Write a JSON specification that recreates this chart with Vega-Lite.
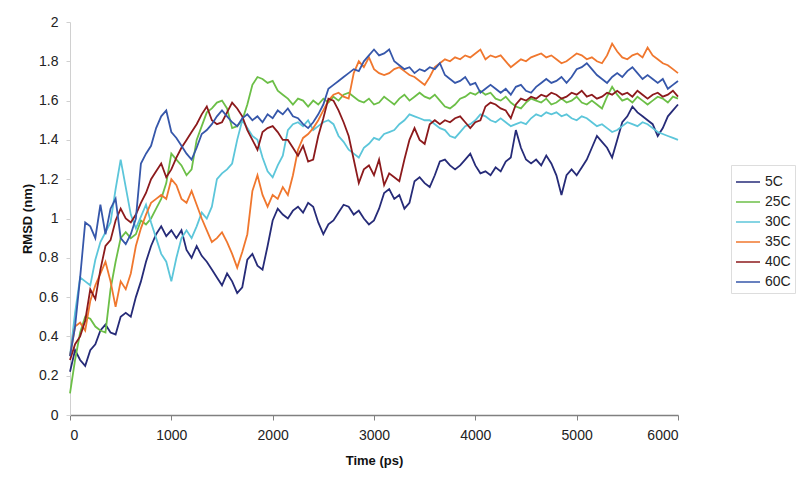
{
"$schema": "https://vega.github.io/schema/vega-lite/v6.json",
"width": 608, "height": 393,
"autosize": "none",
"padding": {"left": 70, "top": 22, "right": 122, "bottom": 70},
"background": "white",
"config": {"view": {"stroke": null}, "font": "Liberation Sans"},
"data": {"values": [
{"s":"5C","t":0,"v":0.22},{"s":"5C","t":50,"v":0.33},{"s":"5C","t":100,"v":0.28},{"s":"5C","t":150,"v":0.25},{"s":"5C","t":200,"v":0.33},{"s":"5C","t":250,"v":0.36},{"s":"5C","t":300,"v":0.43},{"s":"5C","t":350,"v":0.46},{"s":"5C","t":400,"v":0.42},{"s":"5C","t":450,"v":0.41},{"s":"5C","t":500,"v":0.50},{"s":"5C","t":550,"v":0.52},{"s":"5C","t":600,"v":0.50},{"s":"5C","t":650,"v":0.60},{"s":"5C","t":700,"v":0.68},{"s":"5C","t":750,"v":0.78},{"s":"5C","t":800,"v":0.86},{"s":"5C","t":850,"v":0.92},{"s":"5C","t":900,"v":0.96},{"s":"5C","t":950,"v":0.91},{"s":"5C","t":1000,"v":0.94},{"s":"5C","t":1050,"v":0.90},{"s":"5C","t":1100,"v":0.94},{"s":"5C","t":1150,"v":0.84},{"s":"5C","t":1200,"v":0.80},{"s":"5C","t":1250,"v":0.86},{"s":"5C","t":1300,"v":0.81},{"s":"5C","t":1350,"v":0.78},{"s":"5C","t":1400,"v":0.74},{"s":"5C","t":1450,"v":0.70},{"s":"5C","t":1500,"v":0.66},{"s":"5C","t":1550,"v":0.72},{"s":"5C","t":1600,"v":0.68},{"s":"5C","t":1650,"v":0.62},{"s":"5C","t":1700,"v":0.65},{"s":"5C","t":1750,"v":0.79},{"s":"5C","t":1800,"v":0.82},{"s":"5C","t":1850,"v":0.76},{"s":"5C","t":1900,"v":0.74},{"s":"5C","t":1950,"v":0.86},{"s":"5C","t":2000,"v":0.99},{"s":"5C","t":2050,"v":1.05},{"s":"5C","t":2100,"v":1.02},{"s":"5C","t":2150,"v":1.00},{"s":"5C","t":2200,"v":1.04},{"s":"5C","t":2250,"v":1.06},{"s":"5C","t":2300,"v":1.03},{"s":"5C","t":2350,"v":1.08},{"s":"5C","t":2400,"v":1.06},{"s":"5C","t":2450,"v":0.98},{"s":"5C","t":2500,"v":0.92},{"s":"5C","t":2550,"v":0.97},{"s":"5C","t":2600,"v":0.99},{"s":"5C","t":2650,"v":1.03},{"s":"5C","t":2700,"v":1.07},{"s":"5C","t":2750,"v":1.06},{"s":"5C","t":2800,"v":1.02},{"s":"5C","t":2850,"v":1.04},{"s":"5C","t":2900,"v":1.00},{"s":"5C","t":2950,"v":0.97},{"s":"5C","t":3000,"v":0.99},{"s":"5C","t":3050,"v":1.05},{"s":"5C","t":3100,"v":1.13},{"s":"5C","t":3150,"v":1.15},{"s":"5C","t":3200,"v":1.10},{"s":"5C","t":3250,"v":1.12},{"s":"5C","t":3300,"v":1.05},{"s":"5C","t":3350,"v":1.08},{"s":"5C","t":3400,"v":1.19},{"s":"5C","t":3450,"v":1.21},{"s":"5C","t":3500,"v":1.18},{"s":"5C","t":3550,"v":1.16},{"s":"5C","t":3600,"v":1.22},{"s":"5C","t":3650,"v":1.29},{"s":"5C","t":3700,"v":1.30},{"s":"5C","t":3750,"v":1.27},{"s":"5C","t":3800,"v":1.25},{"s":"5C","t":3850,"v":1.27},{"s":"5C","t":3900,"v":1.30},{"s":"5C","t":3950,"v":1.33},{"s":"5C","t":4000,"v":1.27},{"s":"5C","t":4050,"v":1.23},{"s":"5C","t":4100,"v":1.24},{"s":"5C","t":4150,"v":1.22},{"s":"5C","t":4200,"v":1.26},{"s":"5C","t":4250,"v":1.24},{"s":"5C","t":4300,"v":1.29},{"s":"5C","t":4350,"v":1.31},{"s":"5C","t":4400,"v":1.45},{"s":"5C","t":4450,"v":1.36},{"s":"5C","t":4500,"v":1.30},{"s":"5C","t":4550,"v":1.28},{"s":"5C","t":4600,"v":1.30},{"s":"5C","t":4650,"v":1.27},{"s":"5C","t":4700,"v":1.32},{"s":"5C","t":4750,"v":1.28},{"s":"5C","t":4800,"v":1.22},{"s":"5C","t":4850,"v":1.12},{"s":"5C","t":4900,"v":1.22},{"s":"5C","t":4950,"v":1.25},{"s":"5C","t":5000,"v":1.22},{"s":"5C","t":5050,"v":1.26},{"s":"5C","t":5100,"v":1.30},{"s":"5C","t":5150,"v":1.36},{"s":"5C","t":5200,"v":1.42},{"s":"5C","t":5250,"v":1.39},{"s":"5C","t":5300,"v":1.36},{"s":"5C","t":5350,"v":1.31},{"s":"5C","t":5400,"v":1.40},{"s":"5C","t":5450,"v":1.49},{"s":"5C","t":5500,"v":1.52},{"s":"5C","t":5550,"v":1.57},{"s":"5C","t":5600,"v":1.54},{"s":"5C","t":5650,"v":1.52},{"s":"5C","t":5700,"v":1.50},{"s":"5C","t":5750,"v":1.48},{"s":"5C","t":5800,"v":1.42},{"s":"5C","t":5850,"v":1.46},{"s":"5C","t":5900,"v":1.52},{"s":"5C","t":5950,"v":1.55},{"s":"5C","t":6000,"v":1.58},
{"s":"25C","t":0,"v":0.11},{"s":"25C","t":50,"v":0.28},{"s":"25C","t":100,"v":0.42},{"s":"25C","t":150,"v":0.50},{"s":"25C","t":200,"v":0.49},{"s":"25C","t":250,"v":0.45},{"s":"25C","t":300,"v":0.43},{"s":"25C","t":350,"v":0.42},{"s":"25C","t":400,"v":0.64},{"s":"25C","t":450,"v":0.78},{"s":"25C","t":500,"v":0.90},{"s":"25C","t":550,"v":0.93},{"s":"25C","t":600,"v":0.90},{"s":"25C","t":650,"v":0.92},{"s":"25C","t":700,"v":0.99},{"s":"25C","t":750,"v":0.97},{"s":"25C","t":800,"v":1.00},{"s":"25C","t":850,"v":1.05},{"s":"25C","t":900,"v":1.10},{"s":"25C","t":950,"v":1.18},{"s":"25C","t":1000,"v":1.33},{"s":"25C","t":1050,"v":1.30},{"s":"25C","t":1100,"v":1.27},{"s":"25C","t":1150,"v":1.22},{"s":"25C","t":1200,"v":1.25},{"s":"25C","t":1250,"v":1.40},{"s":"25C","t":1300,"v":1.47},{"s":"25C","t":1350,"v":1.54},{"s":"25C","t":1400,"v":1.56},{"s":"25C","t":1450,"v":1.59},{"s":"25C","t":1500,"v":1.60},{"s":"25C","t":1550,"v":1.56},{"s":"25C","t":1600,"v":1.46},{"s":"25C","t":1650,"v":1.47},{"s":"25C","t":1700,"v":1.50},{"s":"25C","t":1750,"v":1.58},{"s":"25C","t":1800,"v":1.68},{"s":"25C","t":1850,"v":1.72},{"s":"25C","t":1900,"v":1.71},{"s":"25C","t":1950,"v":1.69},{"s":"25C","t":2000,"v":1.70},{"s":"25C","t":2050,"v":1.65},{"s":"25C","t":2100,"v":1.63},{"s":"25C","t":2150,"v":1.61},{"s":"25C","t":2200,"v":1.58},{"s":"25C","t":2250,"v":1.61},{"s":"25C","t":2300,"v":1.60},{"s":"25C","t":2350,"v":1.57},{"s":"25C","t":2400,"v":1.60},{"s":"25C","t":2450,"v":1.58},{"s":"25C","t":2500,"v":1.61},{"s":"25C","t":2550,"v":1.59},{"s":"25C","t":2600,"v":1.62},{"s":"25C","t":2650,"v":1.60},{"s":"25C","t":2700,"v":1.63},{"s":"25C","t":2750,"v":1.64},{"s":"25C","t":2800,"v":1.62},{"s":"25C","t":2850,"v":1.60},{"s":"25C","t":2900,"v":1.59},{"s":"25C","t":2950,"v":1.61},{"s":"25C","t":3000,"v":1.58},{"s":"25C","t":3050,"v":1.59},{"s":"25C","t":3100,"v":1.62},{"s":"25C","t":3150,"v":1.60},{"s":"25C","t":3200,"v":1.58},{"s":"25C","t":3250,"v":1.61},{"s":"25C","t":3300,"v":1.63},{"s":"25C","t":3350,"v":1.60},{"s":"25C","t":3400,"v":1.62},{"s":"25C","t":3450,"v":1.64},{"s":"25C","t":3500,"v":1.62},{"s":"25C","t":3550,"v":1.61},{"s":"25C","t":3600,"v":1.63},{"s":"25C","t":3650,"v":1.60},{"s":"25C","t":3700,"v":1.57},{"s":"25C","t":3750,"v":1.56},{"s":"25C","t":3800,"v":1.58},{"s":"25C","t":3850,"v":1.61},{"s":"25C","t":3900,"v":1.62},{"s":"25C","t":3950,"v":1.64},{"s":"25C","t":4000,"v":1.63},{"s":"25C","t":4050,"v":1.65},{"s":"25C","t":4100,"v":1.63},{"s":"25C","t":4150,"v":1.64},{"s":"25C","t":4200,"v":1.61},{"s":"25C","t":4250,"v":1.60},{"s":"25C","t":4300,"v":1.62},{"s":"25C","t":4350,"v":1.59},{"s":"25C","t":4400,"v":1.57},{"s":"25C","t":4450,"v":1.56},{"s":"25C","t":4500,"v":1.59},{"s":"25C","t":4550,"v":1.61},{"s":"25C","t":4600,"v":1.60},{"s":"25C","t":4650,"v":1.59},{"s":"25C","t":4700,"v":1.61},{"s":"25C","t":4750,"v":1.58},{"s":"25C","t":4800,"v":1.59},{"s":"25C","t":4850,"v":1.61},{"s":"25C","t":4900,"v":1.59},{"s":"25C","t":4950,"v":1.60},{"s":"25C","t":5000,"v":1.62},{"s":"25C","t":5050,"v":1.59},{"s":"25C","t":5100,"v":1.58},{"s":"25C","t":5150,"v":1.60},{"s":"25C","t":5200,"v":1.58},{"s":"25C","t":5250,"v":1.56},{"s":"25C","t":5300,"v":1.62},{"s":"25C","t":5350,"v":1.67},{"s":"25C","t":5400,"v":1.63},{"s":"25C","t":5450,"v":1.60},{"s":"25C","t":5500,"v":1.61},{"s":"25C","t":5550,"v":1.59},{"s":"25C","t":5600,"v":1.62},{"s":"25C","t":5650,"v":1.60},{"s":"25C","t":5700,"v":1.58},{"s":"25C","t":5750,"v":1.60},{"s":"25C","t":5800,"v":1.62},{"s":"25C","t":5850,"v":1.61},{"s":"25C","t":5900,"v":1.59},{"s":"25C","t":5950,"v":1.62},{"s":"25C","t":6000,"v":1.61},
{"s":"30C","t":0,"v":0.30},{"s":"30C","t":50,"v":0.52},{"s":"30C","t":100,"v":0.70},{"s":"30C","t":150,"v":0.68},{"s":"30C","t":200,"v":0.66},{"s":"30C","t":250,"v":0.79},{"s":"30C","t":300,"v":0.88},{"s":"30C","t":350,"v":0.93},{"s":"30C","t":400,"v":0.98},{"s":"30C","t":450,"v":1.15},{"s":"30C","t":500,"v":1.30},{"s":"30C","t":550,"v":1.16},{"s":"30C","t":600,"v":1.02},{"s":"30C","t":650,"v":0.95},{"s":"30C","t":700,"v":1.01},{"s":"30C","t":750,"v":1.07},{"s":"30C","t":800,"v":0.98},{"s":"30C","t":850,"v":0.90},{"s":"30C","t":900,"v":0.82},{"s":"30C","t":950,"v":0.78},{"s":"30C","t":1000,"v":0.68},{"s":"30C","t":1050,"v":0.80},{"s":"30C","t":1100,"v":0.90},{"s":"30C","t":1150,"v":0.94},{"s":"30C","t":1200,"v":0.90},{"s":"30C","t":1250,"v":0.96},{"s":"30C","t":1300,"v":1.03},{"s":"30C","t":1350,"v":1.00},{"s":"30C","t":1400,"v":1.06},{"s":"30C","t":1450,"v":1.20},{"s":"30C","t":1500,"v":1.23},{"s":"30C","t":1550,"v":1.25},{"s":"30C","t":1600,"v":1.28},{"s":"30C","t":1650,"v":1.40},{"s":"30C","t":1700,"v":1.50},{"s":"30C","t":1750,"v":1.46},{"s":"30C","t":1800,"v":1.42},{"s":"30C","t":1850,"v":1.40},{"s":"30C","t":1900,"v":1.31},{"s":"30C","t":1950,"v":1.24},{"s":"30C","t":2000,"v":1.21},{"s":"30C","t":2050,"v":1.27},{"s":"30C","t":2100,"v":1.32},{"s":"30C","t":2150,"v":1.45},{"s":"30C","t":2200,"v":1.48},{"s":"30C","t":2250,"v":1.49},{"s":"30C","t":2300,"v":1.47},{"s":"30C","t":2350,"v":1.50},{"s":"30C","t":2400,"v":1.45},{"s":"30C","t":2450,"v":1.47},{"s":"30C","t":2500,"v":1.49},{"s":"30C","t":2550,"v":1.50},{"s":"30C","t":2600,"v":1.48},{"s":"30C","t":2650,"v":1.42},{"s":"30C","t":2700,"v":1.39},{"s":"30C","t":2750,"v":1.35},{"s":"30C","t":2800,"v":1.33},{"s":"30C","t":2850,"v":1.31},{"s":"30C","t":2900,"v":1.36},{"s":"30C","t":2950,"v":1.38},{"s":"30C","t":3000,"v":1.41},{"s":"30C","t":3050,"v":1.40},{"s":"30C","t":3100,"v":1.43},{"s":"30C","t":3150,"v":1.44},{"s":"30C","t":3200,"v":1.45},{"s":"30C","t":3250,"v":1.48},{"s":"30C","t":3300,"v":1.50},{"s":"30C","t":3350,"v":1.53},{"s":"30C","t":3400,"v":1.52},{"s":"30C","t":3450,"v":1.51},{"s":"30C","t":3500,"v":1.50},{"s":"30C","t":3550,"v":1.50},{"s":"30C","t":3600,"v":1.48},{"s":"30C","t":3650,"v":1.46},{"s":"30C","t":3700,"v":1.45},{"s":"30C","t":3750,"v":1.42},{"s":"30C","t":3800,"v":1.41},{"s":"30C","t":3850,"v":1.44},{"s":"30C","t":3900,"v":1.47},{"s":"30C","t":3950,"v":1.48},{"s":"30C","t":4000,"v":1.50},{"s":"30C","t":4050,"v":1.53},{"s":"30C","t":4100,"v":1.52},{"s":"30C","t":4150,"v":1.50},{"s":"30C","t":4200,"v":1.49},{"s":"30C","t":4250,"v":1.51},{"s":"30C","t":4300,"v":1.49},{"s":"30C","t":4350,"v":1.47},{"s":"30C","t":4400,"v":1.48},{"s":"30C","t":4450,"v":1.49},{"s":"30C","t":4500,"v":1.48},{"s":"30C","t":4550,"v":1.51},{"s":"30C","t":4600,"v":1.53},{"s":"30C","t":4650,"v":1.52},{"s":"30C","t":4700,"v":1.54},{"s":"30C","t":4750,"v":1.53},{"s":"30C","t":4800,"v":1.54},{"s":"30C","t":4850,"v":1.52},{"s":"30C","t":4900,"v":1.53},{"s":"30C","t":4950,"v":1.51},{"s":"30C","t":5000,"v":1.50},{"s":"30C","t":5050,"v":1.52},{"s":"30C","t":5100,"v":1.51},{"s":"30C","t":5150,"v":1.49},{"s":"30C","t":5200,"v":1.47},{"s":"30C","t":5250,"v":1.48},{"s":"30C","t":5300,"v":1.46},{"s":"30C","t":5350,"v":1.44},{"s":"30C","t":5400,"v":1.45},{"s":"30C","t":5450,"v":1.47},{"s":"30C","t":5500,"v":1.49},{"s":"30C","t":5550,"v":1.48},{"s":"30C","t":5600,"v":1.47},{"s":"30C","t":5650,"v":1.49},{"s":"30C","t":5700,"v":1.48},{"s":"30C","t":5750,"v":1.46},{"s":"30C","t":5800,"v":1.44},{"s":"30C","t":5850,"v":1.43},{"s":"30C","t":5900,"v":1.42},{"s":"30C","t":5950,"v":1.41},{"s":"30C","t":6000,"v":1.40},
{"s":"35C","t":0,"v":0.30},{"s":"35C","t":50,"v":0.45},{"s":"35C","t":100,"v":0.47},{"s":"35C","t":150,"v":0.43},{"s":"35C","t":200,"v":0.58},{"s":"35C","t":250,"v":0.66},{"s":"35C","t":300,"v":0.72},{"s":"35C","t":350,"v":0.78},{"s":"35C","t":400,"v":0.68},{"s":"35C","t":450,"v":0.55},{"s":"35C","t":500,"v":0.68},{"s":"35C","t":550,"v":0.64},{"s":"35C","t":600,"v":0.72},{"s":"35C","t":650,"v":0.86},{"s":"35C","t":700,"v":0.95},{"s":"35C","t":750,"v":1.02},{"s":"35C","t":800,"v":1.08},{"s":"35C","t":850,"v":1.10},{"s":"35C","t":900,"v":1.12},{"s":"35C","t":950,"v":1.10},{"s":"35C","t":1000,"v":1.20},{"s":"35C","t":1050,"v":1.17},{"s":"35C","t":1100,"v":1.10},{"s":"35C","t":1150,"v":1.08},{"s":"35C","t":1200,"v":1.14},{"s":"35C","t":1250,"v":1.07},{"s":"35C","t":1300,"v":1.00},{"s":"35C","t":1350,"v":0.94},{"s":"35C","t":1400,"v":0.88},{"s":"35C","t":1450,"v":0.90},{"s":"35C","t":1500,"v":0.93},{"s":"35C","t":1550,"v":0.88},{"s":"35C","t":1600,"v":0.82},{"s":"35C","t":1650,"v":0.75},{"s":"35C","t":1700,"v":0.83},{"s":"35C","t":1750,"v":0.92},{"s":"35C","t":1800,"v":1.14},{"s":"35C","t":1850,"v":1.22},{"s":"35C","t":1900,"v":1.12},{"s":"35C","t":1950,"v":1.06},{"s":"35C","t":2000,"v":1.12},{"s":"35C","t":2050,"v":1.10},{"s":"35C","t":2100,"v":1.16},{"s":"35C","t":2150,"v":1.12},{"s":"35C","t":2200,"v":1.22},{"s":"35C","t":2250,"v":1.35},{"s":"35C","t":2300,"v":1.41},{"s":"35C","t":2350,"v":1.43},{"s":"35C","t":2400,"v":1.46},{"s":"35C","t":2450,"v":1.50},{"s":"35C","t":2500,"v":1.55},{"s":"35C","t":2550,"v":1.60},{"s":"35C","t":2600,"v":1.63},{"s":"35C","t":2650,"v":1.64},{"s":"35C","t":2700,"v":1.62},{"s":"35C","t":2750,"v":1.61},{"s":"35C","t":2800,"v":1.74},{"s":"35C","t":2850,"v":1.80},{"s":"35C","t":2900,"v":1.77},{"s":"35C","t":2950,"v":1.82},{"s":"35C","t":3000,"v":1.76},{"s":"35C","t":3050,"v":1.74},{"s":"35C","t":3100,"v":1.73},{"s":"35C","t":3150,"v":1.74},{"s":"35C","t":3200,"v":1.76},{"s":"35C","t":3250,"v":1.77},{"s":"35C","t":3300,"v":1.75},{"s":"35C","t":3350,"v":1.73},{"s":"35C","t":3400,"v":1.72},{"s":"35C","t":3450,"v":1.70},{"s":"35C","t":3500,"v":1.68},{"s":"35C","t":3550,"v":1.72},{"s":"35C","t":3600,"v":1.77},{"s":"35C","t":3650,"v":1.79},{"s":"35C","t":3700,"v":1.81},{"s":"35C","t":3750,"v":1.80},{"s":"35C","t":3800,"v":1.82},{"s":"35C","t":3850,"v":1.81},{"s":"35C","t":3900,"v":1.83},{"s":"35C","t":3950,"v":1.82},{"s":"35C","t":4000,"v":1.84},{"s":"35C","t":4050,"v":1.86},{"s":"35C","t":4100,"v":1.81},{"s":"35C","t":4150,"v":1.83},{"s":"35C","t":4200,"v":1.82},{"s":"35C","t":4250,"v":1.83},{"s":"35C","t":4300,"v":1.80},{"s":"35C","t":4350,"v":1.77},{"s":"35C","t":4400,"v":1.79},{"s":"35C","t":4450,"v":1.81},{"s":"35C","t":4500,"v":1.80},{"s":"35C","t":4550,"v":1.82},{"s":"35C","t":4600,"v":1.83},{"s":"35C","t":4650,"v":1.84},{"s":"35C","t":4700,"v":1.82},{"s":"35C","t":4750,"v":1.83},{"s":"35C","t":4800,"v":1.81},{"s":"35C","t":4850,"v":1.79},{"s":"35C","t":4900,"v":1.80},{"s":"35C","t":4950,"v":1.82},{"s":"35C","t":5000,"v":1.84},{"s":"35C","t":5050,"v":1.83},{"s":"35C","t":5100,"v":1.81},{"s":"35C","t":5150,"v":1.82},{"s":"35C","t":5200,"v":1.80},{"s":"35C","t":5250,"v":1.79},{"s":"35C","t":5300,"v":1.83},{"s":"35C","t":5350,"v":1.89},{"s":"35C","t":5400,"v":1.85},{"s":"35C","t":5450,"v":1.82},{"s":"35C","t":5500,"v":1.81},{"s":"35C","t":5550,"v":1.83},{"s":"35C","t":5600,"v":1.84},{"s":"35C","t":5650,"v":1.82},{"s":"35C","t":5700,"v":1.87},{"s":"35C","t":5750,"v":1.83},{"s":"35C","t":5800,"v":1.81},{"s":"35C","t":5850,"v":1.79},{"s":"35C","t":5900,"v":1.78},{"s":"35C","t":5950,"v":1.76},{"s":"35C","t":6000,"v":1.74},
{"s":"40C","t":0,"v":0.28},{"s":"40C","t":50,"v":0.36},{"s":"40C","t":100,"v":0.40},{"s":"40C","t":150,"v":0.48},{"s":"40C","t":200,"v":0.64},{"s":"40C","t":250,"v":0.59},{"s":"40C","t":300,"v":0.74},{"s":"40C","t":350,"v":0.86},{"s":"40C","t":400,"v":0.89},{"s":"40C","t":450,"v":0.99},{"s":"40C","t":500,"v":1.05},{"s":"40C","t":550,"v":1.00},{"s":"40C","t":600,"v":0.98},{"s":"40C","t":650,"v":1.02},{"s":"40C","t":700,"v":1.08},{"s":"40C","t":750,"v":1.13},{"s":"40C","t":800,"v":1.20},{"s":"40C","t":850,"v":1.24},{"s":"40C","t":900,"v":1.28},{"s":"40C","t":950,"v":1.21},{"s":"40C","t":1000,"v":1.25},{"s":"40C","t":1050,"v":1.31},{"s":"40C","t":1100,"v":1.36},{"s":"40C","t":1150,"v":1.40},{"s":"40C","t":1200,"v":1.44},{"s":"40C","t":1250,"v":1.48},{"s":"40C","t":1300,"v":1.53},{"s":"40C","t":1350,"v":1.57},{"s":"40C","t":1400,"v":1.50},{"s":"40C","t":1450,"v":1.48},{"s":"40C","t":1500,"v":1.49},{"s":"40C","t":1550,"v":1.54},{"s":"40C","t":1600,"v":1.59},{"s":"40C","t":1650,"v":1.56},{"s":"40C","t":1700,"v":1.52},{"s":"40C","t":1750,"v":1.45},{"s":"40C","t":1800,"v":1.40},{"s":"40C","t":1850,"v":1.35},{"s":"40C","t":1900,"v":1.44},{"s":"40C","t":1950,"v":1.46},{"s":"40C","t":2000,"v":1.47},{"s":"40C","t":2050,"v":1.44},{"s":"40C","t":2100,"v":1.40},{"s":"40C","t":2150,"v":1.40},{"s":"40C","t":2200,"v":1.36},{"s":"40C","t":2250,"v":1.32},{"s":"40C","t":2300,"v":1.37},{"s":"40C","t":2350,"v":1.29},{"s":"40C","t":2400,"v":1.30},{"s":"40C","t":2450,"v":1.42},{"s":"40C","t":2500,"v":1.51},{"s":"40C","t":2550,"v":1.61},{"s":"40C","t":2600,"v":1.60},{"s":"40C","t":2650,"v":1.55},{"s":"40C","t":2700,"v":1.49},{"s":"40C","t":2750,"v":1.42},{"s":"40C","t":2800,"v":1.30},{"s":"40C","t":2850,"v":1.18},{"s":"40C","t":2900,"v":1.25},{"s":"40C","t":2950,"v":1.27},{"s":"40C","t":3000,"v":1.22},{"s":"40C","t":3050,"v":1.30},{"s":"40C","t":3100,"v":1.17},{"s":"40C","t":3150,"v":1.23},{"s":"40C","t":3200,"v":1.21},{"s":"40C","t":3250,"v":1.19},{"s":"40C","t":3300,"v":1.30},{"s":"40C","t":3350,"v":1.40},{"s":"40C","t":3400,"v":1.46},{"s":"40C","t":3450,"v":1.40},{"s":"40C","t":3500,"v":1.38},{"s":"40C","t":3550,"v":1.48},{"s":"40C","t":3600,"v":1.50},{"s":"40C","t":3650,"v":1.48},{"s":"40C","t":3700,"v":1.50},{"s":"40C","t":3750,"v":1.49},{"s":"40C","t":3800,"v":1.51},{"s":"40C","t":3850,"v":1.52},{"s":"40C","t":3900,"v":1.49},{"s":"40C","t":3950,"v":1.46},{"s":"40C","t":4000,"v":1.49},{"s":"40C","t":4050,"v":1.50},{"s":"40C","t":4100,"v":1.57},{"s":"40C","t":4150,"v":1.59},{"s":"40C","t":4200,"v":1.58},{"s":"40C","t":4250,"v":1.56},{"s":"40C","t":4300,"v":1.55},{"s":"40C","t":4350,"v":1.51},{"s":"40C","t":4400,"v":1.58},{"s":"40C","t":4450,"v":1.61},{"s":"40C","t":4500,"v":1.60},{"s":"40C","t":4550,"v":1.62},{"s":"40C","t":4600,"v":1.61},{"s":"40C","t":4650,"v":1.63},{"s":"40C","t":4700,"v":1.62},{"s":"40C","t":4750,"v":1.64},{"s":"40C","t":4800,"v":1.63},{"s":"40C","t":4850,"v":1.61},{"s":"40C","t":4900,"v":1.62},{"s":"40C","t":4950,"v":1.64},{"s":"40C","t":5000,"v":1.63},{"s":"40C","t":5050,"v":1.65},{"s":"40C","t":5100,"v":1.62},{"s":"40C","t":5150,"v":1.63},{"s":"40C","t":5200,"v":1.61},{"s":"40C","t":5250,"v":1.62},{"s":"40C","t":5300,"v":1.64},{"s":"40C","t":5350,"v":1.63},{"s":"40C","t":5400,"v":1.65},{"s":"40C","t":5450,"v":1.63},{"s":"40C","t":5500,"v":1.64},{"s":"40C","t":5550,"v":1.62},{"s":"40C","t":5600,"v":1.65},{"s":"40C","t":5650,"v":1.63},{"s":"40C","t":5700,"v":1.61},{"s":"40C","t":5750,"v":1.63},{"s":"40C","t":5800,"v":1.64},{"s":"40C","t":5850,"v":1.62},{"s":"40C","t":5900,"v":1.63},{"s":"40C","t":5950,"v":1.65},{"s":"40C","t":6000,"v":1.62},
{"s":"60C","t":0,"v":0.30},{"s":"60C","t":50,"v":0.45},{"s":"60C","t":100,"v":0.70},{"s":"60C","t":150,"v":0.98},{"s":"60C","t":200,"v":0.96},{"s":"60C","t":250,"v":0.90},{"s":"60C","t":300,"v":1.07},{"s":"60C","t":350,"v":0.92},{"s":"60C","t":400,"v":1.05},{"s":"60C","t":450,"v":1.10},{"s":"60C","t":500,"v":0.90},{"s":"60C","t":550,"v":0.87},{"s":"60C","t":600,"v":0.92},{"s":"60C","t":650,"v":1.00},{"s":"60C","t":700,"v":1.28},{"s":"60C","t":750,"v":1.33},{"s":"60C","t":800,"v":1.37},{"s":"60C","t":850,"v":1.46},{"s":"60C","t":900,"v":1.52},{"s":"60C","t":950,"v":1.55},{"s":"60C","t":1000,"v":1.44},{"s":"60C","t":1050,"v":1.41},{"s":"60C","t":1100,"v":1.37},{"s":"60C","t":1150,"v":1.33},{"s":"60C","t":1200,"v":1.30},{"s":"60C","t":1250,"v":1.36},{"s":"60C","t":1300,"v":1.43},{"s":"60C","t":1350,"v":1.45},{"s":"60C","t":1400,"v":1.48},{"s":"60C","t":1450,"v":1.52},{"s":"60C","t":1500,"v":1.55},{"s":"60C","t":1550,"v":1.52},{"s":"60C","t":1600,"v":1.49},{"s":"60C","t":1650,"v":1.47},{"s":"60C","t":1700,"v":1.51},{"s":"60C","t":1750,"v":1.53},{"s":"60C","t":1800,"v":1.50},{"s":"60C","t":1850,"v":1.52},{"s":"60C","t":1900,"v":1.49},{"s":"60C","t":1950,"v":1.53},{"s":"60C","t":2000,"v":1.51},{"s":"60C","t":2050,"v":1.55},{"s":"60C","t":2100,"v":1.53},{"s":"60C","t":2150,"v":1.56},{"s":"60C","t":2200,"v":1.52},{"s":"60C","t":2250,"v":1.51},{"s":"60C","t":2300,"v":1.48},{"s":"60C","t":2350,"v":1.46},{"s":"60C","t":2400,"v":1.49},{"s":"60C","t":2450,"v":1.53},{"s":"60C","t":2500,"v":1.58},{"s":"60C","t":2550,"v":1.66},{"s":"60C","t":2600,"v":1.68},{"s":"60C","t":2650,"v":1.70},{"s":"60C","t":2700,"v":1.72},{"s":"60C","t":2750,"v":1.74},{"s":"60C","t":2800,"v":1.76},{"s":"60C","t":2850,"v":1.75},{"s":"60C","t":2900,"v":1.80},{"s":"60C","t":2950,"v":1.83},{"s":"60C","t":3000,"v":1.86},{"s":"60C","t":3050,"v":1.83},{"s":"60C","t":3100,"v":1.84},{"s":"60C","t":3150,"v":1.86},{"s":"60C","t":3200,"v":1.80},{"s":"60C","t":3250,"v":1.78},{"s":"60C","t":3300,"v":1.76},{"s":"60C","t":3350,"v":1.77},{"s":"60C","t":3400,"v":1.74},{"s":"60C","t":3450,"v":1.76},{"s":"60C","t":3500,"v":1.75},{"s":"60C","t":3550,"v":1.77},{"s":"60C","t":3600,"v":1.76},{"s":"60C","t":3650,"v":1.79},{"s":"60C","t":3700,"v":1.73},{"s":"60C","t":3750,"v":1.71},{"s":"60C","t":3800,"v":1.69},{"s":"60C","t":3850,"v":1.70},{"s":"60C","t":3900,"v":1.72},{"s":"60C","t":3950,"v":1.68},{"s":"60C","t":4000,"v":1.69},{"s":"60C","t":4050,"v":1.64},{"s":"60C","t":4100,"v":1.66},{"s":"60C","t":4150,"v":1.68},{"s":"60C","t":4200,"v":1.66},{"s":"60C","t":4250,"v":1.64},{"s":"60C","t":4300,"v":1.66},{"s":"60C","t":4350,"v":1.63},{"s":"60C","t":4400,"v":1.67},{"s":"60C","t":4450,"v":1.68},{"s":"60C","t":4500,"v":1.65},{"s":"60C","t":4550,"v":1.64},{"s":"60C","t":4600,"v":1.67},{"s":"60C","t":4650,"v":1.69},{"s":"60C","t":4700,"v":1.71},{"s":"60C","t":4750,"v":1.69},{"s":"60C","t":4800,"v":1.70},{"s":"60C","t":4850,"v":1.72},{"s":"60C","t":4900,"v":1.69},{"s":"60C","t":4950,"v":1.72},{"s":"60C","t":5000,"v":1.76},{"s":"60C","t":5050,"v":1.77},{"s":"60C","t":5100,"v":1.79},{"s":"60C","t":5150,"v":1.76},{"s":"60C","t":5200,"v":1.73},{"s":"60C","t":5250,"v":1.71},{"s":"60C","t":5300,"v":1.69},{"s":"60C","t":5350,"v":1.72},{"s":"60C","t":5400,"v":1.74},{"s":"60C","t":5450,"v":1.72},{"s":"60C","t":5500,"v":1.75},{"s":"60C","t":5550,"v":1.77},{"s":"60C","t":5600,"v":1.74},{"s":"60C","t":5650,"v":1.71},{"s":"60C","t":5700,"v":1.73},{"s":"60C","t":5750,"v":1.71},{"s":"60C","t":5800,"v":1.69},{"s":"60C","t":5850,"v":1.71},{"s":"60C","t":5900,"v":1.66},{"s":"60C","t":5950,"v":1.68},{"s":"60C","t":6000,"v":1.70}
]},
"mark": {"type": "line", "strokeWidth": 1.8, "interpolate": "linear"},
"encoding": {
  "x": {"field": "t", "type": "quantitative",
    "scale": {"domain": [0, 6000], "nice": false},
    "axis": {"title": "Time (ps)", "values": [0,1000,2000,3000,4000,5000,6000], "format": "d", "grid": false,
      "domainColor": "#808080", "domainWidth": 1.5, "tickColor": "#808080", "tickSize": 5, "tickWidth": 1,
      "labelFontSize": 14, "labelColor": "#222", "labelPadding": 8, "labelFont": "Liberation Sans",
      "titleFontSize": 13, "titleFontWeight": "bold", "titleColor": "#111", "titlePadding": 12, "titleFont": "Liberation Sans"}},
  "y": {"field": "v", "type": "quantitative",
    "scale": {"domain": [0, 2], "nice": false},
    "axis": {"title": "RMSD (nm)", "values": [0,0.2,0.4,0.6,0.8,1,1.2,1.4,1.6,1.8,2], "format": "~g", "grid": false,
      "domainColor": "#d0d0d0", "tickColor": "#d0d0d0", "tickSize": 4,
      "labelFontSize": 14, "labelColor": "#222", "labelPadding": 8, "labelFont": "Liberation Sans",
      "titleFontSize": 13, "titleFontWeight": "bold", "titleColor": "#111", "titlePadding": 4, "titleFont": "Liberation Sans"}},
  "color": {"field": "s", "type": "nominal",
    "scale": {"domain": ["5C","25C","30C","35C","40C","60C"], "range": ["#262B78","#6CBF47","#5CC6DA","#F0772E","#8C1A1C","#3657AA"]},
    "legend": {"title": null, "orient": "none", "legendX": 661, "legendY": 143,
      "symbolType": "stroke", "symbolSize": 576, "symbolStrokeWidth": 1.5, "rowPadding": -2,
      "labelFontSize": 14, "labelFont": "Liberation Sans", "labelColor": "#222", "labelOffset": 4,
      "strokeColor": "#dddddd", "padding": 4, "fillColor": "white"}}
}
}
